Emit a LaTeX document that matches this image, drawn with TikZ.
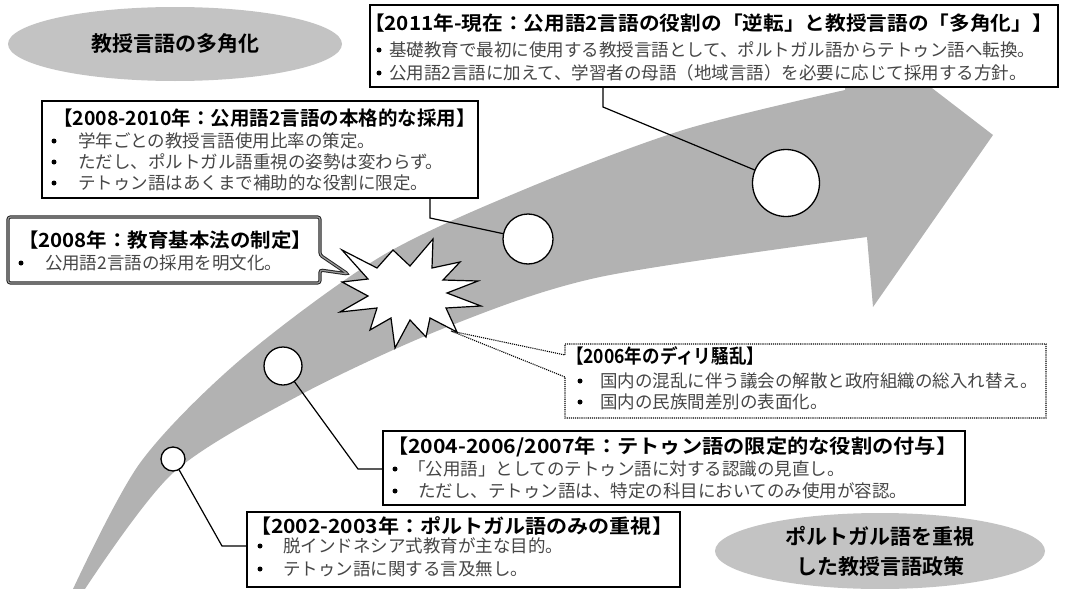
\documentclass[tikz,border=0pt]{standalone}
\usepackage{fontspec}
\newfontfamily\jp[BoldFont={Noto Sans CJK JP Bold}]{Noto Sans CJK JP}
\usetikzlibrary{shapes.geometric,calc}
\definecolor{arrowgray}{RGB}{178,178,178}
\definecolor{ellgray}{RGB}{195,195,195}
\definecolor{bodygray}{RGB}{70,70,70}
\newcommand\hx[2]{\scalebox{#1}[1]{#2}}
\begin{document}
\begin{tikzpicture}[x=1pt,y=-1pt,
  every node/.style={inner sep=0pt,outer sep=0pt},
  panel/.style={rectangle,draw=black,line width=1.3pt,fill=white,anchor=north west},
  hd/.style={anchor=west,font=\jp\bfseries\fontsize{19.5}{22}\selectfont},
  bd/.style={anchor=west,text=bodygray,font=\jp\fontsize{17.5}{20}\selectfont},
  bul/.style={circle,fill=black,minimum size=5pt},
  dot/.style={circle,draw=black,line width=1.3pt,fill=white},
  link/.style={draw=black,line width=1.2pt},
  theme/.style={ellipse,fill=ellgray,font=\jp\bfseries\fontsize{21}{30}\selectfont,align=center}
]
\useasboundingbox (0,0) rectangle (1071,589);

% big curved arrow
\fill[arrowgray] plot[smooth] coordinates {(73,589) (140,463) (240,360) (380,257) (523,190) (683,130) (845,90)}
  -- (850,25) -- (993,135) -- (873,307) -- (867,237)
  -- plot[smooth] coordinates {(867,237) (600,277) (447,327) (300,395) (173,473) (85,589)} -- cycle;

% theme ellipses
\node[theme,minimum width=334pt,minimum height=74pt] (t1) at (175,44) {教授言語の多角化};
\node[theme,minimum width=330pt,minimum height=76pt] (t2) at (880,551) {ポルトガル語を重視\\した教授言語政策};

% milestone circles
\node[dot,minimum size=24pt] (c1) at (173,459) {};
\node[dot,minimum size=38pt] (c2) at (283,366) {};
\node[dot,minimum size=50pt] (c3) at (528,239) {};
\node[dot,minimum size=67pt] (c4) at (786,183) {};

% panels
\node[panel,line width=1.8pt,minimum width=688pt,minimum height=82pt] (b2011) at (370,5) {};
\node[panel,minimum width=436pt,minimum height=97pt] (b0810) at (42,101) {};
\node[panel,draw=none,fill=none,minimum width=312pt,minimum height=66pt] (b2008) at (8,217) {};
\node[panel,draw=none,fill=none,minimum width=481pt,minimum height=74pt] (b2006) at (565,344) {};
\node[panel,minimum width=582pt,minimum height=74pt] (b2004) at (383,431) {};
\node[panel,minimum width=433pt,minimum height=75pt] (b2002) at (247,512) {};

% callout tips and bends
\coordinate (tip8) at (348,274);
\coordinate (tip6) at (451,331);
\coordinate (k1) at (222,546);
\coordinate (k2) at (358,469);
\coordinate (k3) at (430,218);
\coordinate (k4) at (603,107);

% callouts
\draw[draw=black!85,double=black!40,double distance=1.2pt,line width=1pt,fill=white,rounded corners=2.5pt]
  (b2008.north west) -- (b2008.north east) -- ($(b2008.north east)+(0,38)$) -- (tip8)
  -- ($(b2008.north east)+(0,53)$) -- (b2008.south east) -- (b2008.south west) -- cycle;
\draw[densely dotted,line width=1.1pt,fill=white]
  (b2006.north west) -- (b2006.north east) -- (b2006.south east) -- (b2006.south west)
  -- ($(b2006.north west)+(0,33)$) -- (tip6) -- ($(b2006.north west)+(0,11)$) -- cycle;

% connectors
\draw[link] (c1) -- (k1) -- (k1 -| b2002.west);
\draw[link] (c2) -- (k2) -- (k2 -| b2004.west);
\draw[link] (k3 |- b0810.south) -- (k3) -- (c3);
\draw[link] (k4 |- b2011.south) -- (k4) -- (c4);

% starburst (2006 Dili crisis)
\draw[line width=1.2pt,fill=white] (342,250) -- (377,268) -- (393,250) -- (410,266) -- (433,239) -- (432,268)
  -- (460,262) -- (443,280) -- (478,281) -- (447,293) -- (481,306) -- (446,308) -- (457,332) -- (430,318)
  -- (426,337) -- (410,320) -- (395,348) -- (391,318) -- (370,330) -- (377,308) -- (340,312) -- (368,296)
  -- (342,282) -- (368,279) -- cycle;
\coordinate (burst) at (410,293);

% texts: 2011
\node[hd] (h2011) at (364,23) {\hx{1.06}{【2011年-現在：公用語2言語の役割の「逆転」と教授言語の「多角化」】}};
\node[bul] at (379,50) {};
\node[bd] at (389,50) {基礎教育で最初に使用する教授言語として、ポルトガル語からテトゥン語へ転換。};
\node[bul] at (379,73) {};
\node[bd] at (389,73) {公用語2言語に加えて、学習者の母語（地域言語）を必要に応じて採用する方針。};

% 2008-2010
\node[hd] (h0810) at (53,118) {\hx{1.0}{【2008-2010年：公用語2言語の本格的な採用】}};
\node[bul] at (54,141) {};
\node[bd] at (78,141) {学年ごとの教授言語使用比率の策定。};
\node[bul] at (54,162) {};
\node[bd] at (78,162) {ただし、ポルトガル語重視の姿勢は変わらず。};
\node[bul] at (54,183) {};
\node[bd] at (78,183) {テトゥン語はあくまで補助的な役割に限定。};

% 2008
\node[hd] (h2008) at (18,240) {\hx{1.05}{【2008年：教育基本法の制定】}};
\node[bul] at (21,263) {};
\node[bd] at (45,263) {公用語2言語の採用を明文化。};

% 2006
\node[hd] (h2006) at (566,356) {\hx{0.9}{【2006年のディリ騒乱】}};
\node[bul] at (580,381) {};
\node[bd] at (600,381) {国内の混乱に伴う議会の解散と政府組織の総入れ替え。};
\node[bul] at (580,402) {};
\node[bd] at (600,402) {国内の民族間差別の表面化。};

% 2004-2007
\node[hd] (h2004) at (387,447) {\hx{1.09}{【2004-2006/2007年：テトゥン語の限定的な役割の付与】}};
\node[bul] at (395,469) {};
\node[bd] at (408,469) {「公用語」としてのテトゥン語に対する認識の見直し。};
\node[bul] at (395,491) {};
\node[bd] at (418,491) {ただし、テトゥン語は、特定の科目においてのみ使用が容認。};

% 2002-2003
\node[hd] (h2002) at (250,526) {\hx{1.08}{【2002-2003年：ポルトガル語のみの重視】}};
\node[bul] at (260,546) {};
\node[bd] at (283,546) {脱インドネシア式教育が主な目的。};
\node[bul] at (260,569) {};
\node[bd] at (283,569) {テトゥン語に関する言及無し。};
\end{tikzpicture}
\end{document}
